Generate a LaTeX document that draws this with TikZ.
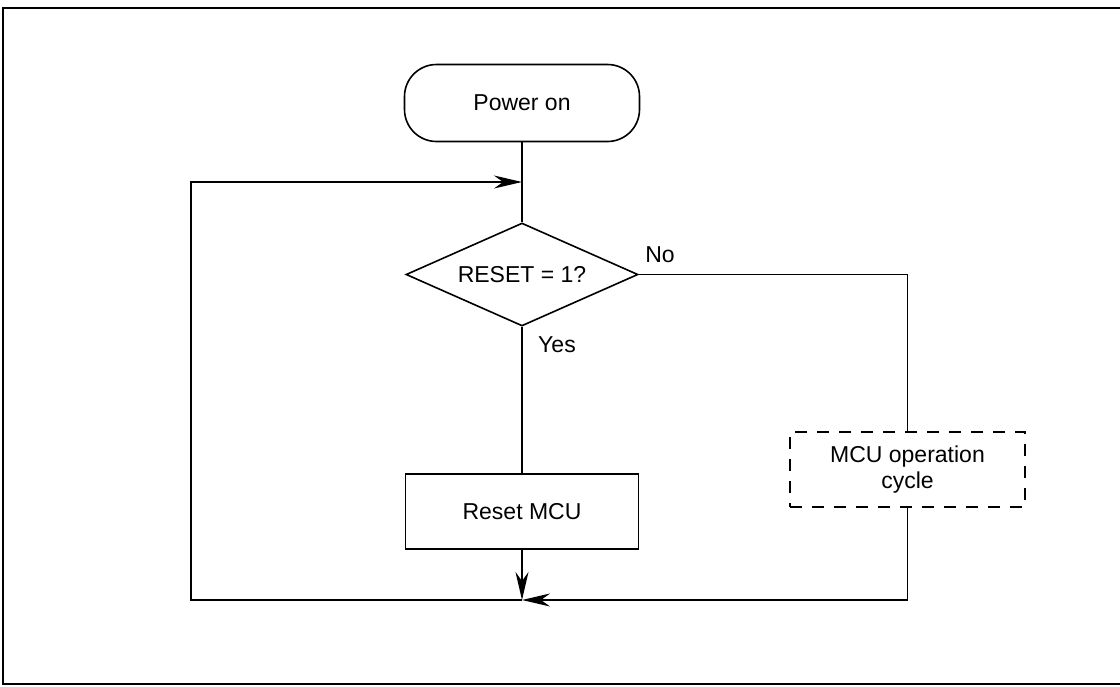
\documentclass[tikz,border=0pt]{standalone}
\usepackage{fontspec}
\setmainfont{Liberation Sans}
\usetikzlibrary{arrows.meta,shapes.geometric}
\begin{document}
\begin{tikzpicture}[x=1pt,y=1pt,line width=0.8pt,
  font=\fontsize{11.5}{13}\selectfont,
  flow/.style={-{Stealth[length=14pt,width=6.5pt,inset=4.5pt]}},
  startbox/.style={draw,rounded corners=16pt,minimum width=117.5pt,minimum height=38.5pt,inner sep=0pt},
  procbox/.style={draw,minimum width=116.5pt,minimum height=37.5pt,inner sep=0pt},
  cyclebox/.style={draw,dash pattern=on 6pt off 5pt,minimum width=117.5pt,minimum height=37.5pt,inner sep=0pt,align=center},
  decision/.style={draw,diamond,aspect=2.25,minimum width=116pt,minimum height=51.5pt,inner sep=0pt}]
\useasboundingbox (0,0) rectangle (560,-343);
\draw [line width=1pt] (560,-4) -- (1.5,-4) -- (1.5,-342) -- (560,-342);
\node (power) [startbox] at (261,-51.5) {Power on};
\coordinate (merge) at (261,-91);
\node (test) [decision] at (261,-137.25) {RESET = 1?};
\node (reset) [procbox] at (261,-255.75) {Reset MCU};
\node (cycle) [cyclebox] at (453.75,-234.75) {MCU operation\\cycle};
\coordinate (join) at (261,-300);
\coordinate (corner) at (95.5,-300);
\draw (power) -- (test);
\draw (test) -- (reset);
\draw (test.east) -| (cycle.north);
\draw [flow] (reset) -- (join);
\draw [flow] (cycle.south) |- (join);
\draw [flow] (join) -- (corner) |- (merge);
\node at (330,-127.5) {No};
\node at (278.5,-172.5) {Yes};
\end{tikzpicture}
\end{document}
